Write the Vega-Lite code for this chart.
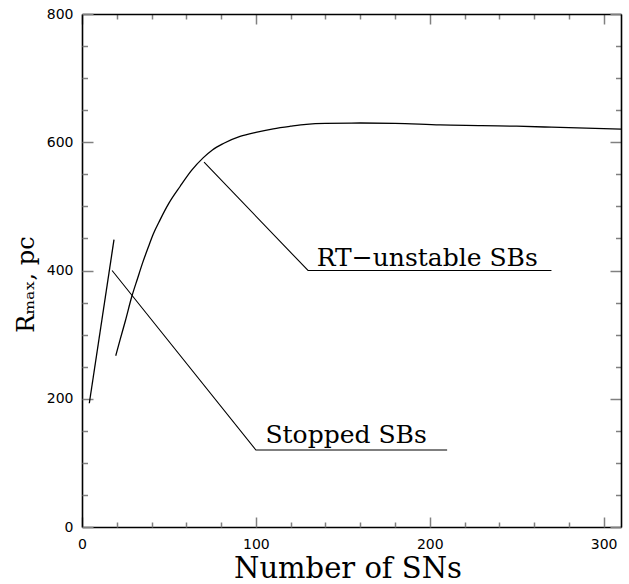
{
  "$schema": "https://vega.github.io/schema/vega-lite/v6.json",
  "width": 539,
  "height": 513,
  "autosize": {"type": "none"},
  "padding": {"left": 82, "top": 14, "right": 8, "bottom": 57},
  "background": "white",
  "config": {
    "view": {"stroke": null},
    "axis": {
      "grid": false,
      "domainColor": "black",
      "domainWidth": 1.6,
      "tickWidth": 1.5,
      "tickOpacity": 1,
      "labelColor": "black",
      "labelFont": "DejaVu Sans",
      "labelFontSize": 14,
      "titleColor": "black",
      "titleFont": "DejaVu Serif",
      "titleFontWeight": "normal"
    }
  },
  "datasets": {
    "stopped": [
      {"x": 4.2, "y": 193},
      {"x": 18.4, "y": 448}
    ],
    "rt": [
      {"x": 19.4, "y": 267},
      {"x": 22, "y": 293},
      {"x": 25, "y": 322},
      {"x": 28.6, "y": 359},
      {"x": 32, "y": 388},
      {"x": 35, "y": 413},
      {"x": 38.2, "y": 437},
      {"x": 41, "y": 457},
      {"x": 44.9, "y": 479},
      {"x": 50, "y": 505},
      {"x": 56.4, "y": 531},
      {"x": 63, "y": 556},
      {"x": 69.8, "y": 576},
      {"x": 75, "y": 588},
      {"x": 81.3, "y": 598},
      {"x": 90.9, "y": 609},
      {"x": 100, "y": 615.5},
      {"x": 110, "y": 621},
      {"x": 120, "y": 625},
      {"x": 129, "y": 628},
      {"x": 140, "y": 629.5},
      {"x": 160, "y": 630},
      {"x": 180, "y": 629.5},
      {"x": 206, "y": 627},
      {"x": 230, "y": 626},
      {"x": 250, "y": 625},
      {"x": 270, "y": 623.5},
      {"x": 290, "y": 622},
      {"x": 310, "y": 620.5}
    ],
    "pointers": [
      {"series": "stopped", "order": 1, "x": 17.3, "y": 400},
      {"series": "stopped", "order": 2, "x": 100, "y": 120},
      {"series": "stopped", "order": 3, "x": 210, "y": 120},
      {"series": "rt", "order": 1, "x": 70.2, "y": 569},
      {"series": "rt", "order": 2, "x": 130, "y": 400},
      {"series": "rt", "order": 3, "x": 270, "y": 400}
    ],
    "labels": [
      {"x": 105.5, "y": 130.5, "label": "Stopped SBs"},
      {"x": 135, "y": 407.5, "label": "RT−unstable SBs"}
    ]
  },
  "layer": [
    {
      "data": {"name": "stopped"},
      "mark": {"type": "line", "color": "black", "strokeWidth": 1.3},
      "encoding": {
        "x": {
          "field": "x", "type": "quantitative",
          "scale": {"domain": [0, 310], "nice": false},
          "axis": {
            "orient": "bottom", "values": [0, 100, 200, 300], "ticks": false,
            "labelPadding": 10, "labelFlush": false,
            "title": "Number of SNs", "titleFontSize": 29,
            "titleX": 265.5, "titleY": 50, "titleAlign": "center", "titleBaseline": "alphabetic"
          }
        },
        "y": {
          "field": "y", "type": "quantitative",
          "scale": {"domain": [0, 800], "nice": false},
          "axis": {
            "orient": "left", "values": [0, 200, 400, 600, 800], "ticks": false,
            "labelPadding": 9, "labelFlush": false,
            "title": "Rₘₐₓ, pc", "titleFontSize": 24, "titleAngle": -90,
            "titleX": -49, "titleY": 270, "titleAlign": "center", "titleBaseline": "alphabetic"
          }
        }
      }
    },
    {
      "data": {"name": "rt"},
      "mark": {"type": "line", "color": "black", "strokeWidth": 1.3, "interpolate": "monotone"},
      "encoding": {
        "x": {
          "field": "x", "type": "quantitative",
          "scale": {"domain": [0, 310], "nice": false},
          "axis": {
            "orient": "bottom",
            "values": [0, 20, 40, 60, 80, 100, 120, 140, 160, 180, 200, 220, 240, 260, 280, 300],
            "labels": false, "domain": false, "title": null,
            "tickColor": "gray",
            "tickSize": {"condition": {"test": "datum.value % 100 === 0", "value": -10}, "value": -5}
          }
        },
        "y": {
          "field": "y", "type": "quantitative",
          "scale": {"domain": [0, 800], "nice": false},
          "axis": {
            "orient": "left",
            "values": [0, 50, 100, 150, 200, 250, 300, 350, 400, 450, 500, 550, 600, 650, 700, 750, 800],
            "labels": false, "domain": false, "title": null,
            "tickColor": "gray",
            "tickSize": {"condition": {"test": "datum.value % 200 === 0", "value": -11}, "value": -5.5}
          }
        }
      }
    },
    {
      "data": {"name": "pointers"},
      "mark": {"type": "line", "color": "black", "strokeWidth": 1.1},
      "encoding": {
        "x": {
          "field": "x", "type": "quantitative",
          "scale": {"domain": [0, 310], "nice": false},
          "axis": {
            "orient": "top",
            "values": [0, 20, 40, 60, 80, 100, 120, 140, 160, 180, 200, 220, 240, 260, 280, 300],
            "labels": false, "domain": true, "title": null,
            "tickColor": "gray",
            "tickSize": {"condition": {"test": "datum.value % 100 === 0", "value": -10}, "value": -5}
          }
        },
        "y": {
          "field": "y", "type": "quantitative",
          "scale": {"domain": [0, 800], "nice": false},
          "axis": {
            "orient": "right",
            "values": [0, 50, 100, 150, 200, 250, 300, 350, 400, 450, 500, 550, 600, 650, 700, 750, 800],
            "labels": false, "domain": true, "title": null,
            "tickColor": "gray",
            "tickSize": {"condition": {"test": "datum.value % 200 === 0", "value": -11}, "value": -5.5}
          }
        },
        "detail": {"field": "series", "type": "nominal"},
        "order": {"field": "order", "type": "quantitative"}
      }
    },
    {
      "data": {"name": "labels"},
      "mark": {"type": "text", "align": "left", "baseline": "alphabetic", "font": "DejaVu Serif", "fontSize": 25, "color": "black"},
      "encoding": {
        "x": {"field": "x", "type": "quantitative", "scale": {"domain": [0, 310], "nice": false}, "axis": null},
        "y": {"field": "y", "type": "quantitative", "scale": {"domain": [0, 800], "nice": false}, "axis": null},
        "text": {"field": "label", "type": "nominal"}
      }
    }
  ],
  "resolve": {"axis": {"x": "independent", "y": "independent"}}
}
